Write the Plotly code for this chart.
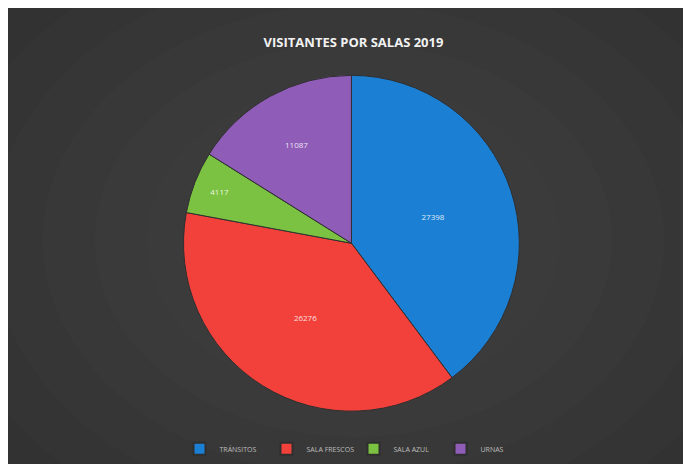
import plotly.graph_objects as go

categories = ["TRÁNSITOS", "SALA FRESCOS", "SALA AZUL", "URNAS"]
values = [27398, 26276, 4117, 11087]
colors = ["#1b7fd4", "#f2403b", "#7cc242", "#8f5cb8"]

fig = go.Figure(go.Pie(
    labels=categories,
    values=values,
    text=[str(v) for v in values],
    sort=False,
    direction="clockwise",
    rotation=0,
    marker=dict(colors=colors, line=dict(color="#2f2f2f", width=1)),
    textinfo="text",
    textposition="inside",
    insidetextorientation="horizontal",
    textfont=dict(color="rgba(255,255,255,0.85)", size=8, family="Open Sans"),
    domain=dict(x=[0.254, 0.740], y=[0.131, 0.855]),
    hoverinfo="label+value",
))

shapes = []
steps = 10
for i in range(steps):
    f = i / steps
    shapes.append(dict(
        type="circle", xref="paper", yref="paper", layer="below",
        x0=0.5 - 0.75 * (1 - f), x1=0.5 + 0.75 * (1 - f),
        y0=0.5 - 0.85 * (1 - f), y1=0.5 + 0.85 * (1 - f),
        fillcolor="rgba(90,90,90,0.07)", line=dict(width=0),
    ))

fig.update_layout(
    width=691, height=464,
    margin=dict(l=0, r=0, t=0, b=0),
    paper_bgcolor="#2e2e2e",
    plot_bgcolor="#2e2e2e",
    shapes=shapes,
    title=dict(
        text="<b>VISITANTES POR SALAS 2019</b>",
        x=0.5, xanchor="center", y=0.925, yanchor="middle",
        font=dict(color="#f2f2f2", size=13, family="Open Sans"),
    ),
    showlegend=True,
    legend=dict(
        orientation="h", x=0.5, xanchor="center", y=0.05, yanchor="middle",
        font=dict(color="#bdbdbd", size=7, family="Open Sans"),
        itemsizing="constant", bgcolor="rgba(0,0,0,0)",
        entrywidth=42, entrywidthmode="pixels", itemwidth=30,
    ),
)

fig.write_html("out.html")
